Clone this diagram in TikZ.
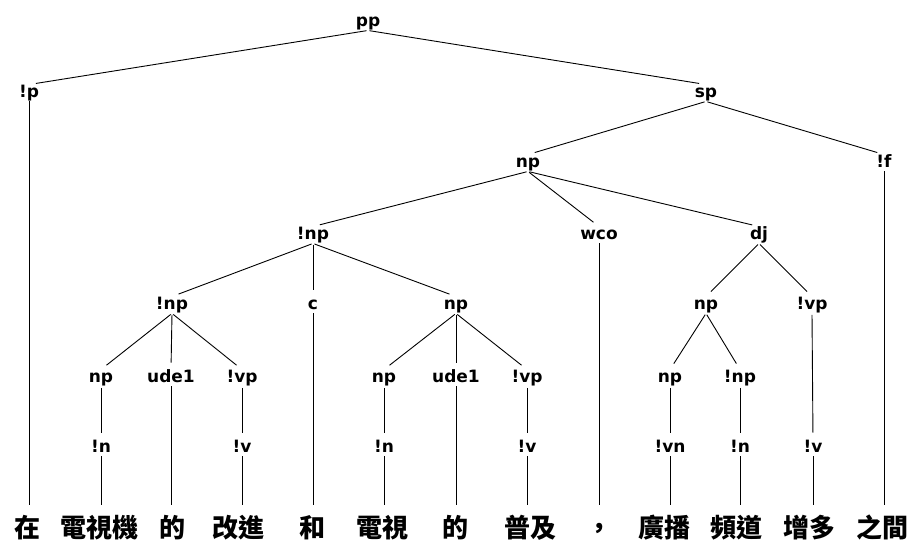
\documentclass[tikz,border=0pt]{standalone}
\usepackage{fontspec}
\newfontfamily\labfam{DejaVu Sans}
\newfontfamily\cjkfam{Noto Sans CJK TC}
\tikzset{
  lab/.style={font={\labfam\bfseries\fontsize{17}{19}\selectfont}, inner sep=0pt, text height=12.5pt, text depth=4pt},
  word/.style={font={\cjkfam\bfseries\fontsize{26}{28}\selectfont}, inner sep=0pt, text height=22pt, text depth=4pt},
  br/.style={line width=0.9pt, shorten >=7pt, shorten <=1.5pt},
  lf/.style={line width=0.9pt, shorten >=10pt, shorten <=0pt}
}
\begin{document}
\begin{tikzpicture}[x=1pt,y=-1pt]
\useasboundingbox (0,0) rectangle (911,548);
% labels
\node[lab] (pp) at (368,22) {pp};
\node[lab] (p) at (29,93) {!p};
\node[lab] (sp) at (706,93) {sp};
\node[lab] (np3) at (528,163) {np};
\node[lab] (f) at (884,163) {!f};
\node[lab] (np4) at (313,235) {!np};
\node[lab] (wco) at (599,235) {wco};
\node[lab] (dj) at (759,235) {dj};
\node[lab] (np5a) at (172,305) {!np};
\node[lab] (c) at (313,305) {c};
\node[lab] (np5b) at (456,305) {np};
\node[lab] (np5c) at (706,305) {np};
\node[lab] (vp5) at (812,305) {!vp};
\node[lab] (np6a) at (101,378) {np};
\node[lab] (ude6a) at (171,378) {ude1};
\node[lab] (vp6a) at (242,378) {!vp};
\node[lab] (np6b) at (384,378) {np};
\node[lab] (ude6b) at (456,378) {ude1};
\node[lab] (vp6b) at (527,378) {!vp};
\node[lab] (np6c) at (670,378) {np};
\node[lab] (np6d) at (740,378) {!np};
\node[lab] (n7a) at (101,448) {!n};
\node[lab] (v7a) at (242,448) {!v};
\node[lab] (n7b) at (384,448) {!n};
\node[lab] (v7b) at (527,448) {!v};
\node[lab] (vn7) at (670,448) {!vn};
\node[lab] (n7c) at (740,448) {!n};
\node[lab] (v7d) at (813,448) {!v};
% words
\node[word] (w1) at (27,528) {在};
\node[word] (w2) at (99,528) {電視機};
\node[word] (w3) at (172,528) {的};
\node[word] (w4) at (238,528) {改進};
\node[word] (w5) at (312,528) {和};
\node[word] (w6) at (382,528) {電視};
\node[word] (w7) at (455,528) {的};
\node[word] (w8) at (530,528) {普及};
\node[word] (w9) at (599,528) {，};
\node[word] (w10) at (664,528) {廣播};
\node[word] (w11) at (736,528) {頻道};
\node[word] (w12) at (809,528) {增多};
\node[word] (w13) at (882,528) {之間};
% branches
\foreach \a/\b in {pp/p, pp/sp, sp/np3, sp/f, np3/np4, np3/wco, np3/dj,
  np4/np5a, np4/c, np4/np5b, np5a/np6a, np5a/ude6a, np5a/vp6a,
  np5b/np6b, np5b/ude6b, np5b/vp6b, dj/np5c, dj/vp5, np5c/np6c, np5c/np6d,
  np6a/n7a, vp6a/v7a, np6b/n7b, vp6b/v7b, np6c/vn7, np6d/n7c, vp5/v7d}
  \draw[br] (\a.south) -- (\b.north);
% leaves
\foreach \a/\b in {p/w1, n7a/w2, ude6a/w3, v7a/w4, c/w5, n7b/w6, ude6b/w7,
  v7b/w8, wco/w9, vn7/w10, n7c/w11, v7d/w12, f/w13}
  \draw[lf] (\a.south) -- (\a.south |- \b.north);
\end{tikzpicture}
\end{document}
